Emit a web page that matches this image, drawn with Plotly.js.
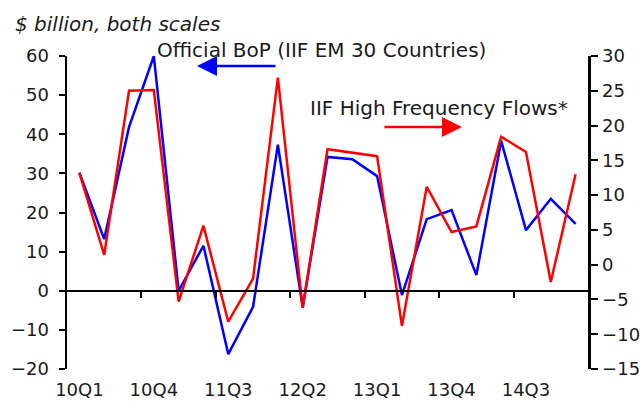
<!DOCTYPE html>
<html>
<head>
<meta charset="utf-8">
<script src="https://cdn.plot.ly/plotly-3.0.1.min.js"></script>
<style>html,body{margin:0;padding:0;background:#fff;}#chart{width:640px;height:401px;}</style>
</head>
<body>
<div id="chart"></div>
<script>
const quarters = ["10Q1","10Q2","10Q3","10Q4","11Q1","11Q2","11Q3","11Q4","12Q1","12Q2","12Q3","12Q4","13Q1","13Q2","13Q3","13Q4","14Q1","14Q2","14Q3","14Q4","15Q1"];
const officialBoP = [30.2, 13.2, 41.8, 60.0, 0.0, 11.5, -16.2, -4.1, 37.3, -4.3, 34.2, 33.6, 29.3, -1.1, 18.3, 20.6, 4.0, 38.3, 15.5, 23.5, 17.1];
const highFreq = [13.2, 1.4, 25.0, 25.1, -5.3, 5.6, -8.2, -2.0, 26.9, -6.2, 16.6, 16.1, 15.6, -8.8, 11.2, 4.7, 5.5, 18.4, 16.2, -2.5, 13.0];
const tickLabels = ["10Q1","10Q4","11Q3","12Q2","13Q1","13Q4","14Q3"];

const idx = quarters.map((q, i) => i);
const tickIdx = tickLabels.map(t => quarters.indexOf(t));
const sepIdx = tickIdx.slice(1).map(i => i - 0.5);
const xr = [-0.5, quarters.length - 0.5];
const font = "DejaVu Sans, sans-serif";
const txt = "#1a1a1a";

const traces = [
  {x: idx, y: officialBoP, type: "scatter", mode: "lines", name: "Official BoP",
   line: {color: "#0000ff", width: 2.5}, xaxis: "x", yaxis: "y", hoverinfo: "skip"},
  {x: idx, y: highFreq, type: "scatter", mode: "lines", name: "IIF High Frequency Flows*",
   line: {color: "#ff0000", width: 2.5}, xaxis: "x2", yaxis: "y2", hoverinfo: "skip"}
];

const layout = {
  width: 640, height: 401,
  margin: {l: 67, r: 52, t: 56, b: 32},
  paper_bgcolor: "#fff", plot_bgcolor: "#fff",
  showlegend: false,
  font: {family: font, size: 18, color: txt},
  xaxis: {
    range: xr, tickvals: tickIdx, ticktext: tickLabels,
    showgrid: false, zeroline: false, showline: false,
    ticks: "outside", ticklen: 4, tickcolor: "rgba(0,0,0,0)",
    tickfont: {family: font, size: 18, color: txt}
  },
  xaxis2: {
    range: xr, overlaying: "x", anchor: "free", position: 0.25, side: "bottom",
    tickvals: sepIdx, showticklabels: false,
    showgrid: false, zeroline: false, showline: true, linecolor: "#000", linewidth: 2.5,
    ticks: "outside", ticklen: 6, tickwidth: 2, tickcolor: "#000"
  },
  yaxis: {
    range: [-20, 60], dtick: 10, tick0: 0,
    showgrid: false, zeroline: false, showline: true, linecolor: "#000", linewidth: 2.5,
    ticks: "outside", ticklen: 6, tickwidth: 2, tickcolor: "#000",
    ticklabelstandoff: 6,
    tickfont: {family: font, size: 18, color: txt}
  },
  yaxis2: {
    range: [-15, 30], dtick: 5, tick0: 0, overlaying: "y", side: "right", anchor: "x",
    showgrid: false, zeroline: false, showline: true, linecolor: "#000", linewidth: 2.5,
    ticks: "outside", ticklen: 7, tickwidth: 2, tickcolor: "#000",
    ticklabelstandoff: 1,
    tickfont: {family: font, size: 18, color: txt}
  },
  annotations: [
    {xref: "paper", yref: "paper", x: -0.1036, y: 1.102, xanchor: "left", yanchor: "middle",
     text: "<i>$ billion, both scales</i>", showarrow: false, font: {family: font, size: 20, color: txt}},
    {xref: "paper", yref: "paper", x: 0.169, y: 1.019, xanchor: "left", yanchor: "middle",
     text: "Official BoP (IIF EM 30 Countries)", showarrow: false, font: {family: font, size: 20, color: txt}},
    {xref: "paper", yref: "paper", x: 0.4626, y: 0.834, xanchor: "left", yanchor: "middle",
     text: "IIF High Frequency Flows*", showarrow: false, font: {family: font, size: 20, color: txt}},
    {xref: "paper", yref: "paper", x: 0.2495, y: 0.968, text: "", showarrow: true,
     ax: 80, ay: 0, arrowhead: 2, arrowsize: 1.6, arrowwidth: 2.5, arrowcolor: "#0000ff", standoff: 0},
    {xref: "paper", yref: "paper", x: 0.758, y: 0.773, text: "", showarrow: true,
     ax: -79, ay: 0, arrowhead: 2, arrowsize: 1.6, arrowwidth: 2.5, arrowcolor: "#ff0000", standoff: 0}
  ]
};

Plotly.newPlot("chart", traces, layout, {staticPlot: true, displayModeBar: false});
</script>
</body>
</html>
